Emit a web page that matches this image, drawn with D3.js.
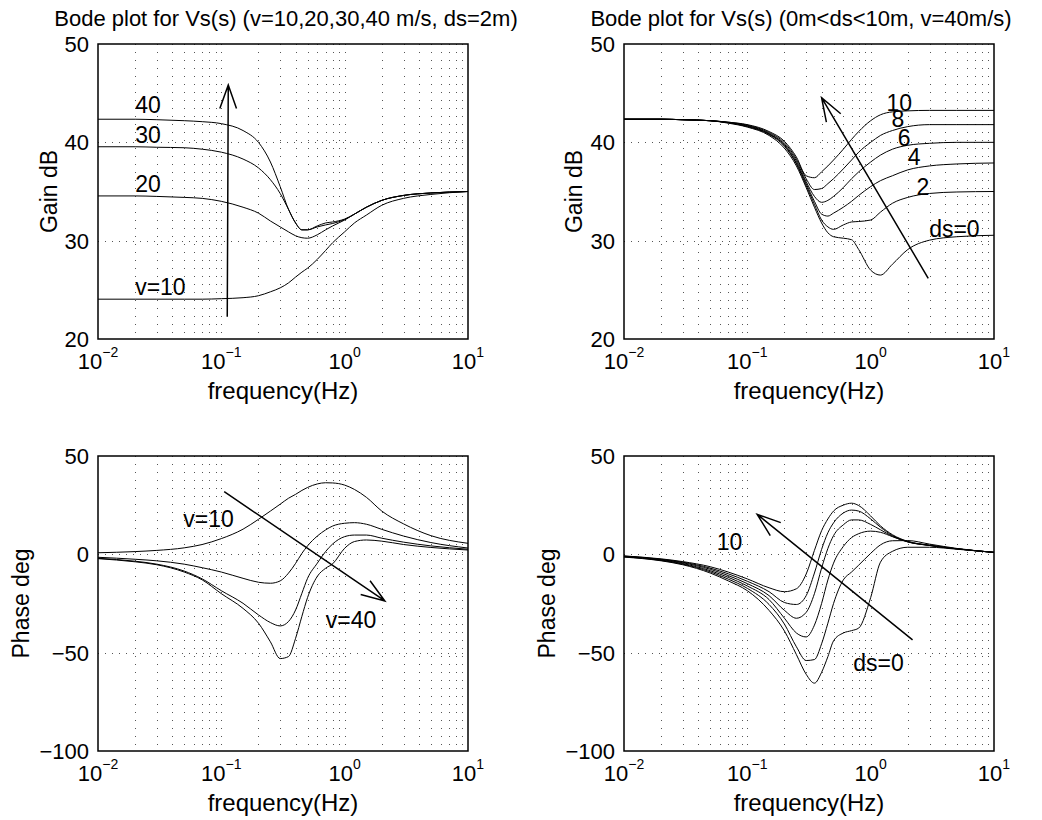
<!DOCTYPE html>
<html>
<head>
<meta charset="utf-8">
<script src="https://cdn.jsdelivr.net/npm/d3@7"></script>
<style>
  body { margin: 0; background: #fff; }
  text { font-family: "Liberation Sans", Arial, Helvetica, sans-serif; fill: #000; }
</style>
</head>
<body>
<div id="container"></div>
<script>
const width = 1042,
    height = 820,
    plotW = 370,
    plotH = 295,
    fontSize = 22,
    labelSize = 24

// shared frequency points (Hz)
const freqs = [0.01, 0.02, 0.03, 0.05, 0.07, 0.1, 0.15, 0.2, 0.25, 0.3, 0.35, 0.4, 0.45, 0.5, 0.6, 0.7, 0.8, 1, 1.2, 1.5, 2, 3, 5, 10]

// top left: gain for v = 10,20,30,40 m/s (ds = 2m)
const gainV10 = [24.05, 24.05, 24.05, 24.05, 24.05, 24.1, 24.2, 24.4, 24.8, 25.2, 25.7, 26.3, 26.8, 27.2, 28.1, 29.0, 29.8, 30.9, 31.8, 32.6, 33.6, 34.3, 34.7, 35.0]
const gainV20 = [34.55, 34.55, 34.5, 34.4, 34.3, 34.0, 33.4, 32.8, 32.0, 31.4, 30.9, 30.5, 30.3, 30.25, 30.6, 31.1, 31.5, 32.1, 32.7, 33.4, 34.1, 34.6, 34.85, 35.0]
const gainV30 = [39.55, 39.55, 39.5, 39.45, 39.3, 39.0, 38.3, 37.4, 36.2, 34.8, 33.2, 31.8, 31.1, 31.1, 31.4, 31.6, 31.75, 32.15, 32.7, 33.4, 34.1, 34.6, 34.85, 35.0]
const gainV40 = [42.35, 42.35, 42.3, 42.2, 42.1, 41.9, 41.2, 40.0, 38.0, 35.5, 33.2, 31.8, 31.1, 31.1, 31.5, 31.8, 31.9, 32.2, 32.7, 33.4, 34.1, 34.6, 34.85, 35.0]

// top right: gain for ds = 0..10 m (v = 40 m/s)
const gainDs10 = [42.35, 42.35, 42.3, 42.2, 42.05, 41.8, 41.1, 40.1, 38.5, 36.6, 36.4, 37.0, 37.6, 38.2, 39.3, 40.3, 41.1, 42.2, 42.8, 43.1, 43.2, 43.25, 43.25, 43.25]
const gainDs8 = [42.35, 42.35, 42.3, 42.2, 42.05, 41.75, 41.0, 39.95, 38.3, 36.3, 35.2, 35.3, 35.8, 36.3, 37.3, 38.2, 39.0, 40.0, 40.7, 41.2, 41.6, 41.8, 41.8, 41.8]
const gainDs6 = [42.35, 42.35, 42.3, 42.2, 42.0, 41.7, 40.9, 39.8, 38.1, 36.0, 34.5, 33.9, 34.1, 34.5, 35.4, 36.3, 37.0, 38.0, 38.7, 39.3, 39.7, 39.9, 40.0, 40.0]
const gainDs4 = [42.35, 42.35, 42.3, 42.2, 42.0, 41.65, 40.85, 39.7, 37.9, 35.8, 34.0, 32.7, 32.5, 32.8, 33.4, 34.0, 34.6, 35.5, 36.1, 36.6, 37.2, 37.6, 37.8, 37.9]
const gainDs2 = [42.35, 42.35, 42.3, 42.2, 42.0, 41.6, 40.8, 39.6, 37.8, 35.6, 33.7, 32.1, 31.4, 31.15, 31.6, 31.9, 31.95, 32.1, 32.9, 33.8, 34.4, 34.8, 34.95, 35.0]
const gainDs0 = [42.35, 42.35, 42.3, 42.2, 41.95, 41.55, 40.7, 39.4, 37.6, 35.4, 33.4, 31.8, 30.8, 30.4, 30.25, 30.1, 29.1, 27.0, 26.5, 27.6, 29.1, 30.05, 30.4, 30.55]

// bottom left: phase for v = 10,20,30,40 m/s
const phaseV10 = [0.8, 1.4, 2.0, 3.3, 5.0, 8.0, 12.8, 17.8, 22.0, 25.5, 28.5, 30.5, 32.5, 34.0, 35.8, 36.4, 36.3, 35.2, 33.0, 29.0, 22.0, 15.5, 9.5, 5.6]
const phaseV20 = [-1.5, -2.5, -3.3, -5.0, -6.8, -9.0, -12.2, -14.2, -14.7, -13.5, -9.6, -4.6, 0.5, 4.3, 9.3, 12.4, 14.4, 15.8, 16.1, 15.3, 12.7, 9.3, 6.0, 3.2]
const phaseV30 = [-2.0, -3.5, -5.0, -8.5, -12.5, -18.5, -24.9, -30.8, -34.7, -36.4, -34.2, -28.3, -19.8, -12.2, -4.5, 1.4, 5.3, 9.0, 9.8, 9.8, 8.2, 6.2, 4.3, 2.6]
const phaseV40 = [-2.2, -3.8, -5.3, -9.0, -13.0, -20.0, -27.5, -35.0, -44.5, -53.0, -52.0, -42.7, -31.5, -22.0, -11.2, -7.1, -4.8, 3.1, 6.5, 7.3, 6.7, 5.0, 3.5, 2.2]

// bottom right: phase for ds = 0..10 m
const phaseDs10 = [-0.8, -2.3, -3.7, -6.3, -9.0, -12.5, -17.0, -19.0, -17.5, -10.0, 2.0, 12.0, 18.0, 22.0, 25.0, 26.0, 24.8, 19.5, 14.5, 10.0, 6.6, 4.6, 2.8, 1.0]
const phaseDs8 = [-0.9, -2.5, -4.0, -7.0, -9.9, -13.7, -19.0, -24.5, -25.5, -21.0, -9.5, 2.5, 11.0, 16.0, 21.0, 22.5, 22.0, 18.0, 13.8, 9.6, 6.5, 4.6, 2.8, 1.0]
const phaseDs6 = [-1.0, -2.7, -4.3, -7.6, -10.8, -14.9, -21.0, -28.5, -32.5, -29.5, -20.0, -7.0, 3.0, 9.5, 15.0, 17.5, 17.5, 15.2, 12.5, 9.2, 6.3, 4.5, 2.8, 1.0]
const phaseDs4 = [-1.1, -2.9, -4.7, -8.3, -11.7, -16.1, -23.0, -32.5, -40.0, -42.0, -36.0, -25.0, -13.0, -4.5, 4.0, 8.5, 10.5, 11.8, 11.2, 9.0, 6.3, 4.5, 2.8, 1.0]
const phaseDs2 = [-1.25, -3.1, -5.0, -8.9, -12.6, -17.3, -25.5, -35.5, -47.0, -54.0, -53.5, -45.5, -35.0, -25.0, -13.0, -9.0, -5.5, 0.5, 4.8, 6.9, 7.0, 5.2, 3.0, 1.0]
const phaseDs0 = [-1.4, -3.3, -5.3, -9.5, -13.5, -18.5, -28.5, -39.0, -51.0, -61.0, -65.5, -60.0, -52.0, -44.0, -40.0, -38.8, -37.5, -22.0, -4.0, 1.5, 3.6, 3.6, 2.6, 1.0]

// axis ticks
const xExponents = [-2, -1, 0, 1]
const gainTicks = [20, 30, 40, 50]
const phaseTicks = [-100, -50, 0, 50]

// annotations: curve labels [text, freq, value] and arrows [tail, tip]
const labelsTL = [["40", 0.02, 43.0], ["30", 0.02, 39.9], ["20", 0.02, 34.95], ["v=10", 0.02, 24.5]]
const labelsTR = [["10", 1.345, 43.2], ["8", 1.477, 41.55], ["6", 1.661, 39.63], ["4", 2.002, 37.7], ["2", 2.354, 34.64], ["ds=0", 2.979, 30.4]]
const labelsBL = [["v=10", 0.0491, 14.06], ["v=40", 0.704, -37.6]]
const labelsBR = [["10", 0.0564, 2.21], ["ds=0", 0.7214, -59.15]]
const arrowTL = [[0.1117, 22.27], [0.1138, 45.83]]
const arrowTR = [[2.93, 26.17], [0.40, 44.54]]
const arrowBL = [[0.1055, 31.85], [2.118, -23.7]]
const arrowBR = [[2.186, -43.5], [0.1202, 20.36]]


const svg = d3.select("#container")
    .append("svg")
    .attr("width", width)
    .attr("height", height)

svg.append("rect").attr("width", width).attr("height", height).attr("fill", "#fff")


function drawPanel(p) {
    const left = p.left, top = p.top
    const bottom = top + plotH, right = left + plotW

    //SCALES
    const xScale = d3.scaleLog()
        .domain([0.01, 10])
        .range([left, right])
    const yScale = d3.scaleLinear()
        .domain([p.ticks[0], p.ticks[p.ticks.length - 1]])
        .range([bottom, top])

    const g = svg.append("g")

    //GRID (dotted, every minor decade step and every y tick)
    g.selectAll(".vgrid")
        .data(xScale.ticks().filter(d => d > 0.01 && d < 10))
        .join("line")
        .attr("x1", d => Math.round(xScale(d)) + 0.5)
        .attr("x2", d => Math.round(xScale(d)) + 0.5)
        .attr("y1", top)
        .attr("y2", bottom)
        .attr("stroke", "#555")
        .attr("stroke-width", 1)
        .attr("stroke-dasharray", "1,7")

    g.selectAll(".hgrid")
        .data(p.ticks.slice(1, -1))
        .join("line")
        .attr("x1", left)
        .attr("x2", right)
        .attr("y1", d => Math.round(yScale(d)) + 0.5)
        .attr("y2", d => Math.round(yScale(d)) + 0.5)
        .attr("stroke", "#555")
        .attr("stroke-width", 1)
        .attr("stroke-dasharray", "1,6")

    //CURVES
    const line = d3.line()
        .x(d => xScale(d[0]))
        .y(d => yScale(d[1]))
        .curve(d3.curveMonotoneX)

    g.selectAll(".curve")
        .data(p.series)
        .join("path")
        .attr("d", s => line(freqs.map((f, i) => [f, s[i]])))
        .attr("fill", "none")
        .attr("stroke", "#000")
        .attr("stroke-width", 1)

    //BOX
    g.append("rect")
        .attr("x", left)
        .attr("y", top)
        .attr("width", plotW)
        .attr("height", plotH)
        .attr("fill", "none")
        .attr("stroke", "#000")
        .attr("stroke-width", 1.5)

    //Y TICK LABELS
    g.selectAll(".ylab")
        .data(p.ticks)
        .join("text")
        .attr("x", left - 9)
        .attr("y", d => yScale(d))
        .attr("dy", "0.36em")
        .attr("text-anchor", "end")
        .attr("font-size", fontSize)
        .text(d => d < 0 ? "\u2212" + Math.abs(d) : d)

    //X TICK LABELS 10^n
    const xl = g.selectAll(".xlab")
        .data(xExponents)
        .join("text")
        .attr("x", d => xScale(Math.pow(10, d)))
        .attr("y", bottom + 30)
        .attr("text-anchor", "middle")
        .attr("font-size", fontSize)
    xl.append("tspan").text("10")
    xl.append("tspan")
        .attr("dy", -12)
        .attr("font-size", 14)
        .text(d => d < 0 ? "\u2212" + Math.abs(d) : d)

    //AXIS LABELS
    g.append("text")
        .attr("x", (left + right) / 2)
        .attr("y", bottom + 60)
        .attr("text-anchor", "middle")
        .attr("font-size", labelSize)
        .text("frequency(Hz)")

    g.append("text")
        .attr("transform", `translate(${left - p.ylabelOffset},${(top + bottom) / 2}) rotate(-90)`)
        .attr("text-anchor", "middle")
        .attr("font-size", 23)
        .text(p.ylabel)

    if (p.title) {
        g.append("text")
            .attr("x", p.titleX)
            .attr("y", 26)
            .attr("text-anchor", "middle")
            .attr("font-size", fontSize)
            .text(p.title)
    }

    //CURVE LABELS
    g.selectAll(".clab")
        .data(p.labels)
        .join("text")
        .attr("x", d => xScale(d[1]))
        .attr("y", d => yScale(d[2]))
        .attr("font-size", 23)
        .text(d => d[0])

    //ARROW
    const x0 = xScale(p.arrow[0][0]), y0 = yScale(p.arrow[0][1])
    const x1 = xScale(p.arrow[1][0]), y1 = yScale(p.arrow[1][1])
    const ang = Math.atan2(y1 - y0, x1 - x0), headLen = 25, headAng = 0.34
    const arrowPath = d3.path()
    arrowPath.moveTo(x0, y0)
    arrowPath.lineTo(x1, y1)
    arrowPath.moveTo(x1 - headLen * Math.cos(ang - headAng), y1 - headLen * Math.sin(ang - headAng))
    arrowPath.lineTo(x1, y1)
    arrowPath.lineTo(x1 - headLen * Math.cos(ang + headAng), y1 - headLen * Math.sin(ang + headAng))
    g.append("path")
        .attr("d", arrowPath.toString())
        .attr("fill", "none")
        .attr("stroke", "#000")
        .attr("stroke-width", 1.5)
}

drawPanel({
    left: 98, top: 44, ticks: gainTicks, ylabel: "Gain dB", ylabelOffset: 41,
    series: [gainV10, gainV20, gainV30, gainV40],
    title: "Bode plot for Vs(s) (v=10,20,30,40 m/s, ds=2m)", titleX: 286,
    labels: labelsTL, arrow: arrowTL
})
drawPanel({
    left: 624, top: 44, ticks: gainTicks, ylabel: "Gain dB", ylabelOffset: 42,
    series: [gainDs0, gainDs2, gainDs4, gainDs6, gainDs8, gainDs10],
    title: "Bode plot for Vs(s) (0m<ds<10m, v=40m/s)", titleX: 801,
    labels: labelsTR, arrow: arrowTR
})
drawPanel({
    left: 98, top: 456, ticks: phaseTicks, ylabel: "Phase deg", ylabelOffset: 69,
    series: [phaseV10, phaseV20, phaseV30, phaseV40],
    labels: labelsBL, arrow: arrowBL
})
drawPanel({
    left: 624, top: 456, ticks: phaseTicks, ylabel: "Phase deg", ylabelOffset: 69,
    series: [phaseDs0, phaseDs2, phaseDs4, phaseDs6, phaseDs8, phaseDs10],
    labels: labelsBR, arrow: arrowBR
})
</script>
</body>
</html>
